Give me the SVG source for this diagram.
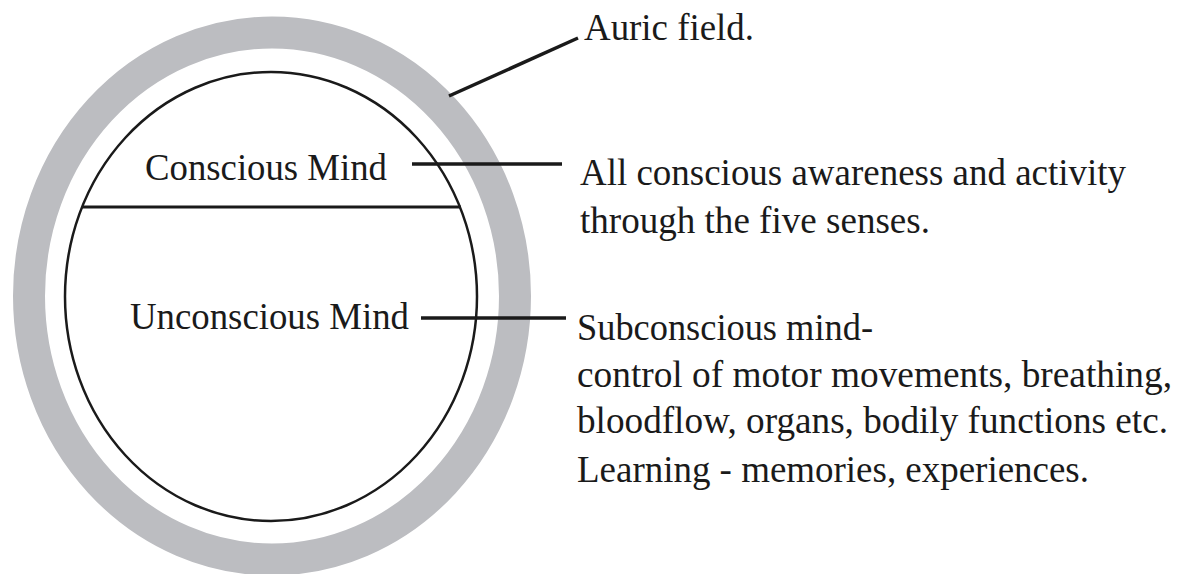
<svg xmlns="http://www.w3.org/2000/svg" width="1181" height="574" viewBox="0 0 1181 574">
<style>
text{font-family:"Liberation Serif","Times New Roman",serif;font-size:37px;fill:#1a1a1a}
.lead{stroke:#1a1a1a;stroke-width:3.5;fill:none}
</style>
<rect width="1181" height="574" fill="#fff"/>
<g id="auric-field">
<ellipse cx="272" cy="296" rx="243" ry="263.5" fill="none" stroke="#bcbdc1" stroke-width="32"/>
</g>
<g id="mind">
<ellipse cx="271" cy="296.5" rx="206" ry="224.5" fill="#fff" stroke="#1a1a1a" stroke-width="2.5"/>
<line x1="82" y1="207" x2="461" y2="207" stroke="#1a1a1a" stroke-width="3"/>
</g>
<g id="conscious-mind"><text x="145" y="180" textLength="242" lengthAdjust="spacingAndGlyphs">Conscious Mind</text></g>
<g id="unconscious-mind"><text x="130" y="329" textLength="279" lengthAdjust="spacingAndGlyphs">Unconscious Mind</text></g>
<g id="connectors">
<line class="lead" x1="449" y1="96" x2="578" y2="38"/>
<line class="lead" x1="412" y1="164" x2="562" y2="164"/>
<line class="lead" x1="421" y1="318" x2="566" y2="318"/>
</g>
<g id="auric-label"><text x="584" y="40" textLength="170" lengthAdjust="spacingAndGlyphs">Auric field.</text></g>
<g id="conscious-desc">
<text x="580" y="185" textLength="546" lengthAdjust="spacingAndGlyphs">All conscious awareness and activity</text>
<text x="580" y="233" textLength="350" lengthAdjust="spacingAndGlyphs">through the five senses.</text>
</g>
<g id="unconscious-desc">
<text x="577" y="340" textLength="296" lengthAdjust="spacingAndGlyphs">Subconscious mind-</text>
<text x="577" y="387" textLength="595" lengthAdjust="spacingAndGlyphs">control of motor movements, breathing,</text>
<text x="577" y="433" textLength="591" lengthAdjust="spacingAndGlyphs">bloodflow, organs, bodily functions etc.</text>
<text x="577" y="482" textLength="512" lengthAdjust="spacingAndGlyphs">Learning - memories, experiences.</text>
</g>
</svg>
